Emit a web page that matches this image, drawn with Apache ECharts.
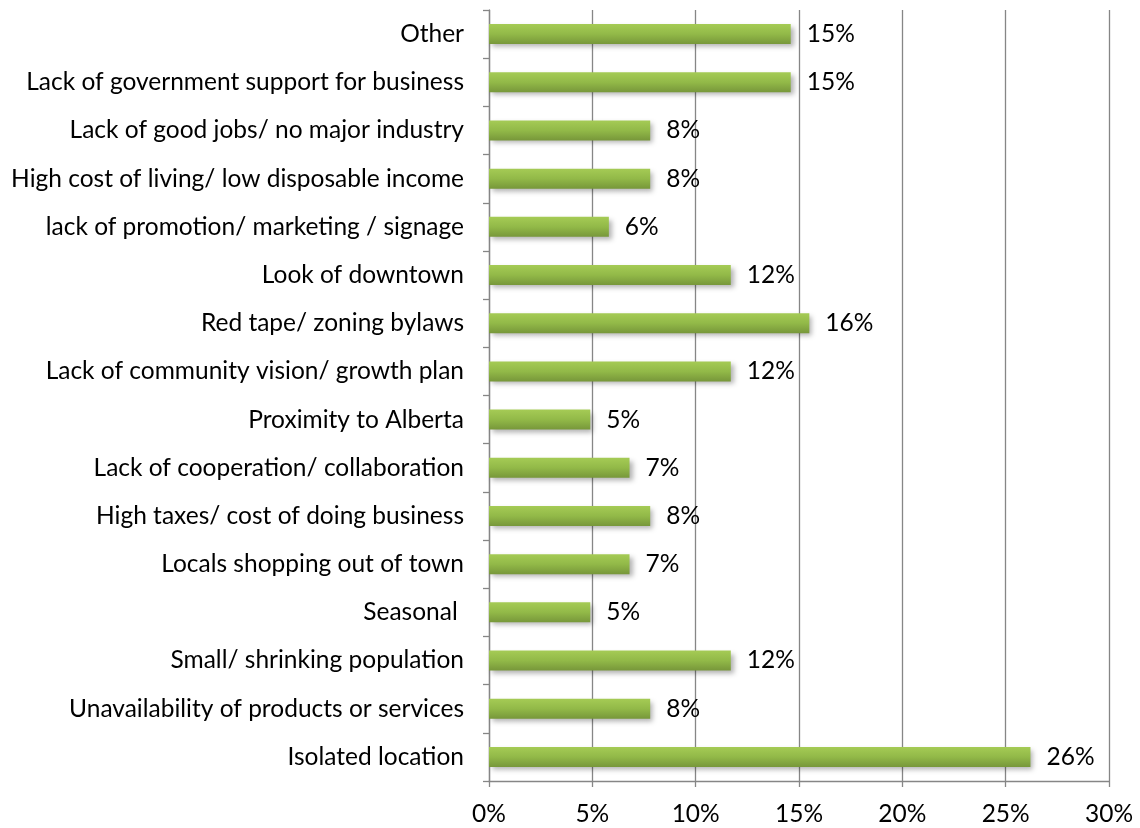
<!DOCTYPE html>
<html>
<head>
<meta charset="utf-8">
<script src="https://cdn.jsdelivr.net/npm/echarts@6/dist/echarts.min.js"></script>
<style>html,body{margin:0;padding:0;background:#fff}#c{width:1140px;height:828px}</style>
</head>
<body>
<div id="c"></div>
<script>
// Categories listed bottom to top (as on the axis)
const categories = [
  "Isolated location",
  "Unavailability of products or services",
  "Small/ shrinking population",
  "Seasonal ",
  "Locals shopping out of town",
  "High taxes/ cost of doing business",
  "Lack of cooperation/ collaboration",
  "Proximity to Alberta",
  "Lack of community vision/ growth plan",
  "Red tape/ zoning bylaws",
  "Look of downtown",
  "lack of promotion/ marketing / signage",
  "High cost of living/ low disposable income",
  "Lack of good jobs/ no major industry",
  "Lack of government support for business",
  "Other"
];
const values = [26.2, 7.8, 11.7, 4.9, 6.8, 7.8, 6.8, 4.9, 11.7, 15.5, 11.7, 5.8, 7.8, 7.8, 14.6, 14.6];
const xTicks = [0, 5, 10, 15, 20, 25, 30];

const FONT = 'Lato, "Open Sans", sans-serif';
const chart = echarts.init(document.getElementById('c'), null, {renderer: 'canvas'});
chart.setOption({
  animation: false,
  backgroundColor: '#fff',
  grid: {left: 489, right: 31, top: 10, bottom: 47, containLabel: false},
  xAxis: {
    type: 'value', min: xTicks[0], max: xTicks[xTicks.length - 1], interval: 5,
    axisLine: {show: true, lineStyle: {color: '#868686', width: 1.3}},
    axisTick: {show: true, length: 6, lineStyle: {color: '#868686', width: 1.3}},
    splitLine: {show: true, lineStyle: {color: '#868686', width: 1.3}},
    axisLabel: {formatter: v => v + '%', color: '#000', fontFamily: FONT, fontSize: 24.5, margin: 21}
  },
  yAxis: {
    type: 'category', data: categories,
    axisLine: {show: true, lineStyle: {color: '#868686', width: 1.3}},
    axisTick: {show: true, length: 6, lineStyle: {color: '#868686', width: 1.3}},
    axisLabel: {color: '#000', fontFamily: FONT, fontSize: 24.5, margin: 25}
  },
  series: [{
    type: 'bar', data: values, barWidth: 20,
    itemStyle: {
      color: new echarts.graphic.LinearGradient(0, 0, 0, 1, [
        {offset: 0, color: '#a5cb55'},
        {offset: 0.5, color: '#92b948'},
        {offset: 1, color: '#77973a'}
      ]),
      shadowBlur: 5, shadowOffsetX: 3, shadowOffsetY: 3, shadowColor: 'rgba(0,0,0,0.3)'
    },
    label: {
      show: true, position: 'right', distance: 16,
      formatter: p => Math.round(p.value) + '%',
      color: '#000', fontFamily: FONT, fontSize: 24.5
    }
  }]
});
</script>
</body>
</html>
